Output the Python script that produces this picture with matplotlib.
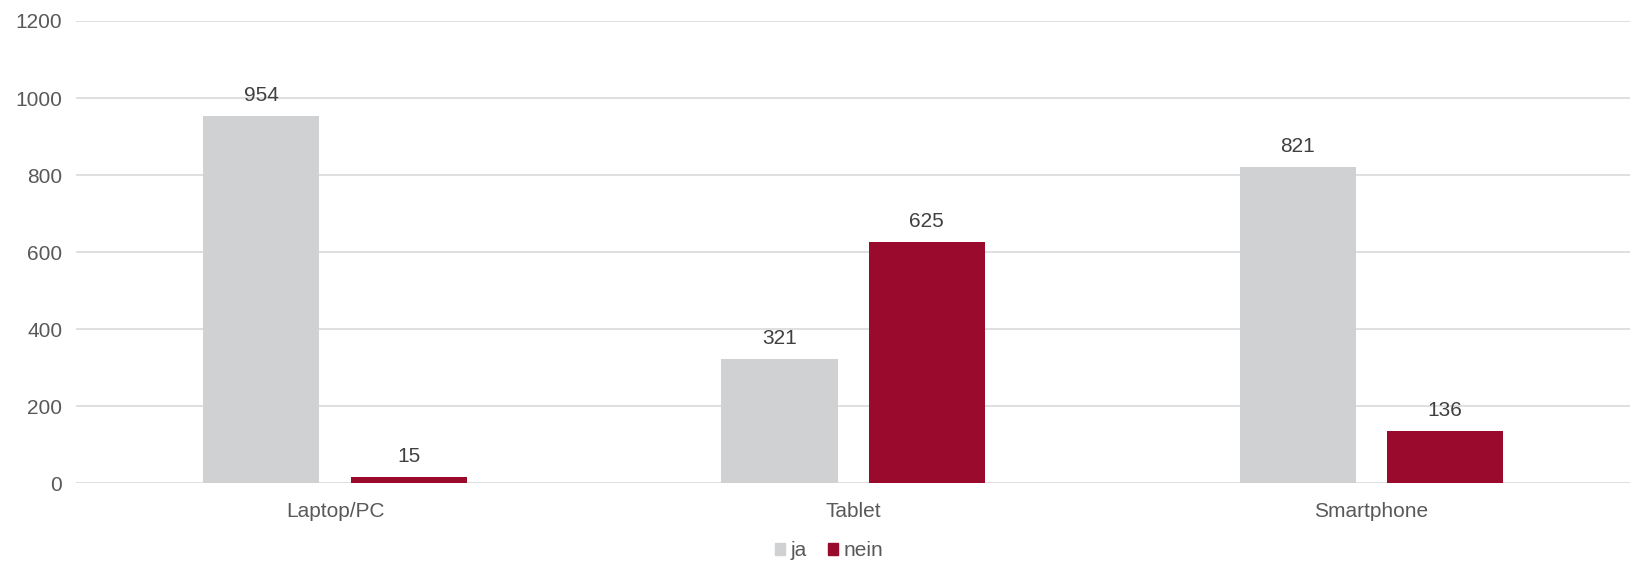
import numpy as np
import matplotlib.pyplot as plt
from matplotlib.patches import Patch

categories = ["Laptop/PC", "Tablet", "Smartphone"]
ja = [954, 321, 821]
nein = [15, 625, 136]

plt.rcParams['font.family'] = ['Liberation Sans', 'DejaVu Sans']
txt = "#595959"
grey = "#D0D1D3"
red = "#990A2C"
fs = 15

fig = plt.figure(figsize=(16.35, 5.63), dpi=100)
ax = fig.add_axes([0.0465, 0.142, 0.9505, 0.8207])

x = np.arange(len(categories))
w = 0.224
off = 0.142
b1 = ax.bar(x - off, ja, w, color=grey, zorder=3)
b2 = ax.bar(x + off, nein, w, color=red, zorder=3)

for bars, vals in [(b1, ja), (b2, nein)]:
    for b, v in zip(bars, vals):
        ax.annotate(str(v), (b.get_x() + b.get_width() / 2, v),
                    xytext=(0, 8), textcoords="offset points",
                    ha="center", va="bottom", fontsize=fs, color="#404040")

ax.set_xlim(-0.5, 2.5)
ax.set_ylim(0, 1200)
ax.set_yticks(range(0, 1201, 200))
ax.set_xticks(x)
ax.set_xticklabels(categories)
ax.grid(axis="y", color="#D9D9D9", linewidth=1.2, zorder=0)
for s in ax.spines.values():
    s.set_visible(False)
ax.tick_params(axis="both", length=0, labelsize=fs, colors=txt)
ax.tick_params(axis="y", pad=10)
ax.tick_params(axis="x", pad=14)

handles = [Patch(color=grey, label="ja"), Patch(color=red, label="nein")]
fig.legend(handles=handles, loc="center", bbox_to_anchor=(0.507, 0.022),
           ncol=2, frameon=False, fontsize=fs, handlelength=0.5,
           handleheight=0.5, handletextpad=0.25, columnspacing=1.0,
           labelcolor=txt)

fig.savefig("out.png", dpi=100)
